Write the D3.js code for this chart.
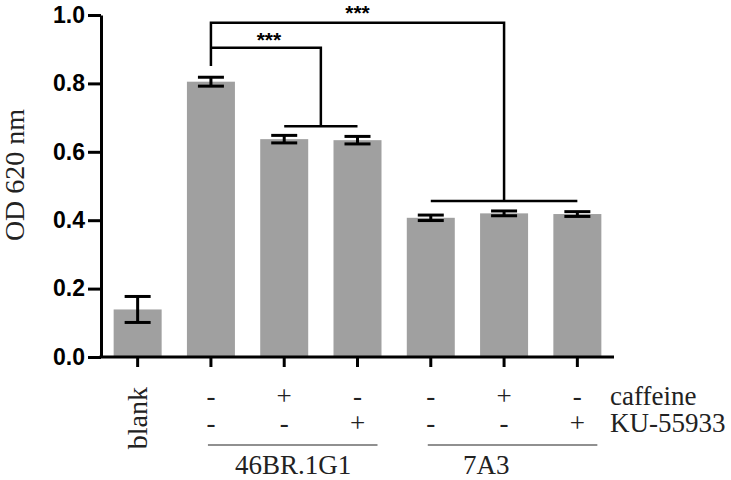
<!DOCTYPE html>
<html lang="en">
<head>
  <meta charset="UTF-8">
  <title>OD 620 nm</title>
  <script src="https://d3js.org/d3.v7.min.js"></script>
  <style>
      body { margin: 0; background: #fff; }
      .serif { font-family: "Liberation Serif", "Times New Roman", serif; fill: #222; }
      .axis path, .axis line { stroke: #000; stroke-width: 3px; }
      .axis text { font-family: "Liberation Sans", Arial, sans-serif; font-weight: bold; font-size: 23px; fill: #000; }
  </style>
</head>
<body>
<div class="canvas"></div>
<script>
  // values
  const categories = ["blank", "46BR", "46BR+caf", "46BR+KU", "7A3", "7A3+caf", "7A3+KU"];
  const means = [0.139, 0.805, 0.637, 0.634, 0.407, 0.420, 0.418];
  const errors = [0.038, 0.013, 0.011, 0.011, 0.008, 0.007, 0.007];
  const caffeineRow = ["", "-", "+", "-", "-", "+", "-"];
  const kuRow = ["", "-", "-", "+", "-", "-", "+"];
  const yTicks = [0, 0.2, 0.4, 0.6, 0.8, 1.0];

  const W = 731, H = 480;
  const mLeft = 101, mRight = 614, mTop = 15, mBottom = 357;

  const svg = d3.select('.canvas')
    .append('svg')
    .attr('width', W)
    .attr('height', H)

  const x = d3.scaleBand()
    .domain(categories)
    .range([mLeft, mRight])
    .paddingInner(0.345)
    .paddingOuter(0.1725)

  const y = d3.scaleLinear()
    .domain([0, 1])
    .range([mBottom, mTop])

  const cx = i => x(categories[i]) + x.bandwidth() / 2;

  // bars
  svg.append('g')
    .selectAll('rect')
    .data(means)
    .enter()
    .append('rect')
    .attr('x', (d, i) => x(categories[i]))
    .attr('y', d => y(d))
    .attr('width', x.bandwidth())
    .attr('height', d => y(0) - y(d))
    .attr('fill', '#a0a0a0')

  // error bars
  const eb = svg.append('g').attr('stroke', '#000').attr('stroke-width', 3)
  means.forEach((m, i) => {
    const c = cx(i), w = 13;
    eb.append('line').attr('x1', c).attr('x2', c).attr('y1', y(m + errors[i])).attr('y2', y(m - errors[i]))
    eb.append('line').attr('x1', c - w).attr('x2', c + w).attr('y1', y(m + errors[i])).attr('y2', y(m + errors[i]))
    eb.append('line').attr('x1', c - w).attr('x2', c + w).attr('y1', y(m - errors[i])).attr('y2', y(m - errors[i]))
  })

  // y axis
  svg.append('g')
    .attr('class', 'axis')
    .attr('transform', `translate(${mLeft},0)`)
    .call(d3.axisLeft(y).tickValues(yTicks).tickFormat(d3.format('.1f')).tickSize(13).tickSizeOuter(0).tickPadding(3))

  // x axis: line + ticks only
  svg.append('g')
    .attr('class', 'axis')
    .attr('transform', `translate(0,${mBottom})`)
    .call(d3.axisBottom(x).tickSize(10).tickSizeOuter(0).tickFormat(''))
    .select('.domain').attr('d', `M${mLeft - 1.5},0H${mRight}`)

  // significance brackets
  const br = svg.append('g').attr('fill', 'none').attr('stroke', '#000').attr('stroke-width', 2.5)
  br.append('path')
    .attr('d', `M${cx(1)},${y(0.851)}V${y(0.977)}H${cx(5)}V${y(0.456)}M${cx(4)},${y(0.456)}H${cx(6)}`)
  br.append('path')
    .attr('d', `M${cx(1)},${y(0.904)}H${(cx(2) + cx(3)) / 2}V${y(0.675)}M${cx(2)},${y(0.675)}H${cx(3)}`)

  svg.append('text')
    .attr('x', (cx(1) + cx(5)) / 2).attr('y', y(0.977) - 3)
    .attr('text-anchor', 'middle')
    .style('font', 'bold 21px "Liberation Sans", Arial, sans-serif')
    .text('***')
  svg.append('text')
    .attr('x', (cx(1) + (cx(2) + cx(3)) / 2) / 2 + 3).attr('y', y(0.904) - 1)
    .attr('text-anchor', 'middle')
    .style('font', 'bold 21px "Liberation Sans", Arial, sans-serif')
    .text('***')

  // y title
  svg.append('text')
    .attr('class', 'serif')
    .attr('transform', `translate(24,175) rotate(-90)`)
    .attr('text-anchor', 'middle')
    .style('font-size', '28px')
    .text('OD 620 nm')

  // blank label
  svg.append('text')
    .attr('class', 'serif')
    .attr('transform', `translate(${cx(0) + 9},387) rotate(-90)`)
    .attr('text-anchor', 'end')
    .style('font-size', '28px')
    .text('blank')

  // +/- rows
  const rows = [[caffeineRow, 405, 'caffeine'], [kuRow, 432, 'KU-55933']];
  rows.forEach(([vals, by, name]) => {
    svg.append('g')
      .selectAll('text')
      .data(vals)
      .enter()
      .append('text')
      .attr('class', 'serif')
      .attr('x', (d, i) => cx(i))
      .attr('y', by)
      .attr('text-anchor', 'middle')
      .style('font-size', '27px')
      .text(d => d)
    svg.append('text')
      .attr('class', 'serif')
      .attr('x', 610).attr('y', by)
      .style('font-size', '27px')
      .text(name)
  })

  // cell line groups
  const groups = [["46BR.1G1", 1, 3, 235], ["7A3", 4, 6, 463]];
  groups.forEach(([name, a, b, tx]) => {
    svg.append('line')
      .attr('x1', x(categories[a]) + 21).attr('x2', x(categories[b]) + x.bandwidth() - 4)
      .attr('y1', 445).attr('y2', 445)
      .attr('stroke', '#222').attr('stroke-width', 1.2)
    svg.append('text')
      .attr('class', 'serif')
      .attr('x', tx).attr('y', 474)
      .style('font-size', '27px')
      .text(name)
  })
</script>
</body>
</html>
